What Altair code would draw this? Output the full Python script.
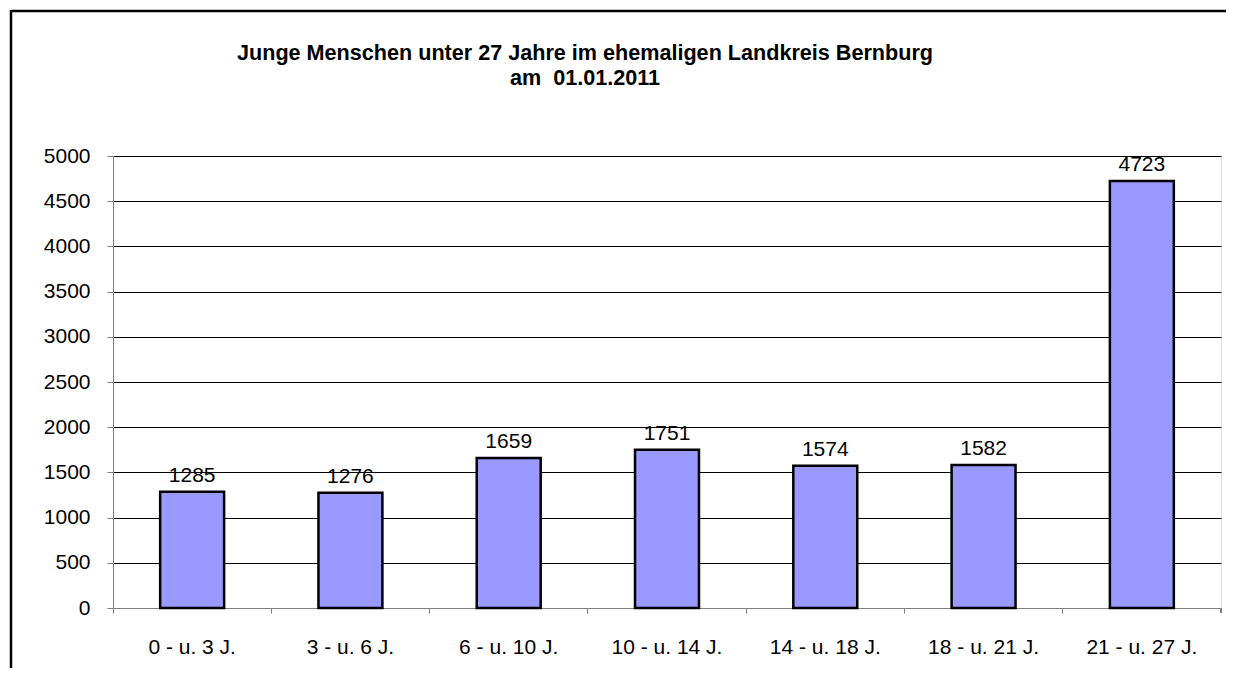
import altair as alt
import pandas as pd

categories = ["0 - u. 3 J.", "3 - u. 6 J.", "6 - u. 10 J.", "10 - u. 14 J.",
              "14 - u. 18 J.", "18 - u. 21 J.", "21 - u. 27 J."]
values = [1285, 1276, 1659, 1751, 1574, 1582, 4723]
y_ticks = list(range(0, 5001, 500))
title_lines = ["Junge Menschen unter 27 Jahre im ehemaligen Landkreis Bernburg",
               "am\u00a0 01.01.2011"]

df = pd.DataFrame({"cat": categories, "val": values})

FONT = "Liberation Sans"
W, H = 1108, 452

x_enc = alt.X("cat:N", sort=categories,
              scale=alt.Scale(paddingInner=0, paddingOuter=0),
              axis=alt.Axis(title=None, labelAngle=0, bandPosition=0,
                            tickSize=5, labelPadding=23, labelFontSize=21,
                            labelFont=FONT, labelColor="black",
                            domainColor="#808080", tickColor="#808080",
                            grid=False))
y_enc = alt.Y("val:Q", scale=alt.Scale(domain=[0, 5000], nice=False),
              axis=alt.Axis(title=None, values=y_ticks, format="d", tickSize=6,
                            labelPadding=17, labelFontSize=21, labelFont=FONT,
                            labelColor="black", domainColor="#808080",
                            tickColor="#808080", grid=True, gridColor="black",
                            gridWidth=1, gridOpacity=1))

base = alt.Chart(df)

bars = base.mark_bar(width=alt.RelativeBandSize(0.404), fill="#9999FF",
                     stroke="black", strokeWidth=2.5).encode(x=x_enc, y=y_enc)

labels = base.mark_text(baseline="alphabetic", dy=-10, fontSize=21,
                        font=FONT, color="black").encode(
    x=alt.X("cat:N", sort=categories), y="val:Q", text="val:Q")

end_tick = base.mark_rule(color="#808080", strokeWidth=1).encode(
    x=alt.value(W), y=alt.value(H), y2=alt.value(H + 5))

title = alt.Chart(pd.DataFrame({"t": [0]})).mark_text(
    text=title_lines, fontSize=21.6, font=FONT, fontWeight="bold",
    align="center", baseline="alphabetic", lineHeight=25, color="black",
    clip=False).encode(x=alt.value(472), y=alt.value(-96))

frame_top = alt.Chart(pd.DataFrame({"t": [0]})).mark_rule(
    color="black", strokeWidth=2.5, clip=False).encode(
    x=alt.value(-102), x2=alt.value(W + 5), y=alt.value(-145))
frame_left = alt.Chart(pd.DataFrame({"t": [0]})).mark_rule(
    color="black", strokeWidth=2.5, clip=False).encode(
    x=alt.value(-102), y=alt.value(-146), y2=alt.value(H + 60))

chart = alt.layer(bars, labels, end_tick, title, frame_top, frame_left).properties(
    width=W, height=H,
    autosize=alt.AutoSizeParams(type="none"),
    padding={"left": 105, "top": 148, "right": 5, "bottom": 60},
).configure_view(strokeWidth=0, stroke="transparent").configure(background="white")

chart.save("out.html", embed_options={"renderer": "svg", "actions": False})
